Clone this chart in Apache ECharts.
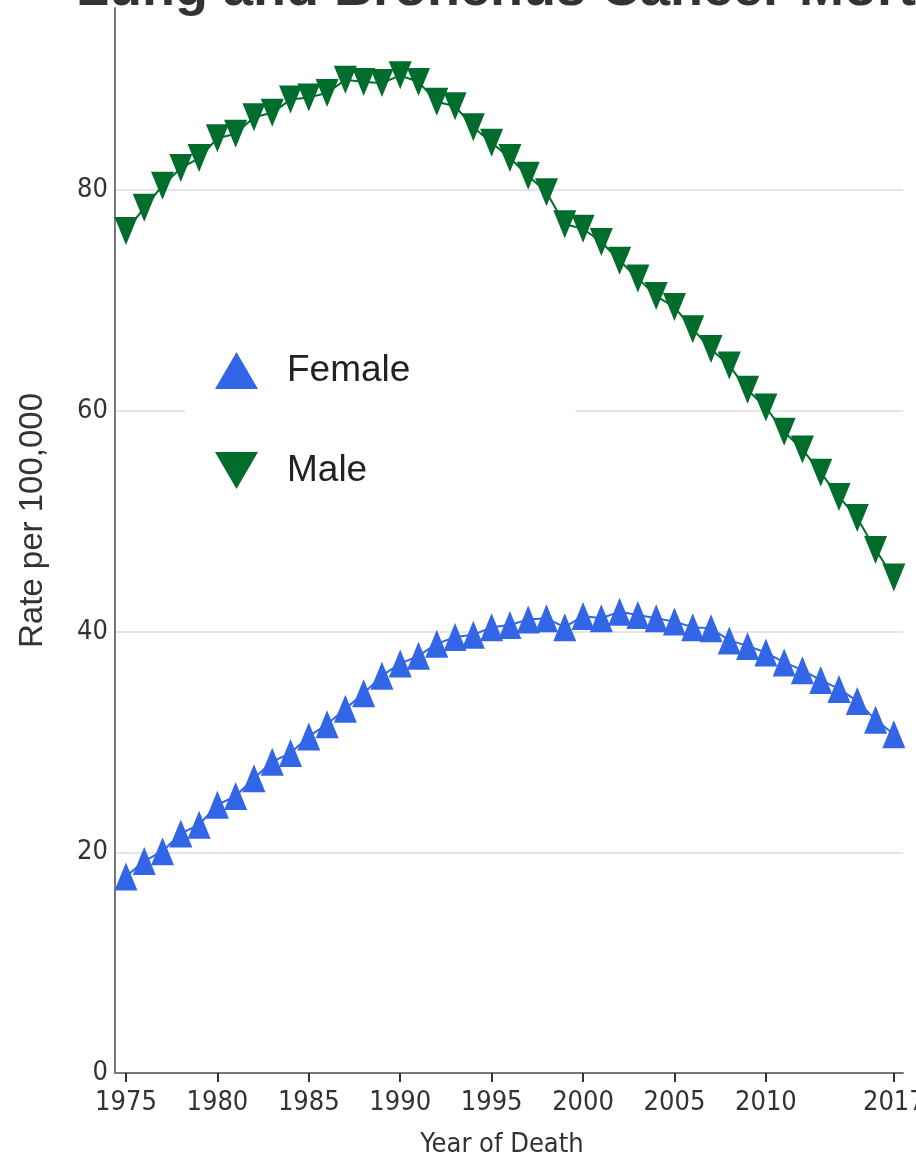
<!DOCTYPE html>
<html>
<head>
<meta charset="utf-8">
<script src="https://cdn.jsdelivr.net/npm/echarts@6/dist/echarts.min.js"></script>
<style>
html,body{margin:0;padding:0;background:#fff;}
#chart{width:916px;height:1159px;}
</style>
</head>
<body>
<div id="chart"></div>
<script>
// ---- data ----
const years = [1975,1976,1977,1978,1979,1980,1981,1982,1983,1984,1985,1986,1987,1988,1989,1990,1991,1992,1993,1994,1995,1996,1997,1998,1999,2000,2001,2002,2003,2004,2005,2006,2007,2008,2009,2010,2011,2012,2013,2014,2015,2016,2017];
const female = [17.8,19.2,20.1,21.7,22.5,24.3,25.1,26.7,28.2,29.0,30.5,31.6,33.0,34.4,36.0,37.1,37.8,38.9,39.5,39.7,40.4,40.6,41.1,41.2,40.4,41.4,41.2,41.8,41.5,41.2,40.9,40.4,40.3,39.2,38.7,38.1,37.2,36.5,35.6,34.8,33.7,32.0,30.7];
const male = [76.3,78.4,80.4,82.0,82.9,84.7,85.1,86.6,87.0,88.2,88.4,88.8,90.0,89.8,89.7,90.4,89.8,88.0,87.6,85.7,84.3,82.9,81.3,79.8,76.9,76.5,75.3,73.6,72.0,70.4,69.4,67.4,65.6,64.1,61.9,60.3,58.1,56.5,54.4,52.2,50.3,47.4,44.9];
const xTickYears = [1975,1980,1985,1990,1995,2000,2005,2010,2017];
const seriesNames = ['Female','Male'];
const titleText = 'Lung and Bronchus Cancer Mortality Rates, 1975-2017';
const xAxisTitle = 'Year of Death';
const yAxisTitle = 'Rate per 100,000';

const narrow = "'Liberation Sans Narrow','Arial Narrow','DejaVu Sans Condensed',sans-serif";
const sans = "'Liberation Sans',Arial,sans-serif";

const chart = echarts.init(document.getElementById('chart'), null, {renderer:'canvas'});
chart.setOption({
  animation:false,
  backgroundColor:'#fff',
  title:{
    text:titleText,
    left:71, top:-42,
    textStyle:{fontFamily:sans, fontSize:54, fontWeight:'bold', color:'#333'}
  },
  legend:{
    orient:'vertical',
    left:185, top:340,
    padding:[12,165,12,30],
    backgroundColor:'#fff',
    itemWidth:43, itemHeight:37, itemGap:63,
    textStyle:{fontFamily:sans, fontSize:37, color:'#222', padding:[0,0,0,24]},
    data:[
      {name:seriesNames[0], icon:'triangle'},
      {name:seriesNames[1], icon:'path://M0,0L43,0L21.5,37Z'}
    ]
  },
  grid:{left:115, right:13, top:8, bottom:86, containLabel:false, outerBoundsMode:'none'},
  xAxis:{
    type:'value',
    min:1974.4, max:2017.5,
    name:xAxisTitle, nameLocation:'middle', nameGap:58,
    nameTextStyle:{fontFamily:narrow, fontSize:27, color:'#333', padding:[0,14,0,0]},
    axisLine:{show:true, lineStyle:{color:'#777', width:2}},
    axisTick:{show:true, customValues:xTickYears, length:9, lineStyle:{color:'#333', width:2}},
    axisLabel:{customValues:xTickYears, fontFamily:narrow, fontSize:27, color:'#333', margin:16,
      formatter:function(v){return String(v);}},
    splitLine:{show:false}
  },
  yAxis:{
    type:'value',
    min:0, max:96.5, interval:20,
    name:yAxisTitle, nameLocation:'middle', nameGap:66, nameRotate:90,
    nameTextStyle:{fontFamily:sans, fontSize:33, color:'#333', padding:[0,0,0,40]},
    axisLine:{show:true, lineStyle:{color:'#777', width:2}},
    axisTick:{show:false},
    axisLabel:{fontFamily:narrow, fontSize:27, color:'#333', margin:7, showMaxLabel:false,
      formatter:function(v){return (v%20===0)?String(v):'';}},
    splitLine:{show:true, showMaxLine:false, lineStyle:{color:'#e6e6e6', width:2}}
  },
  series:[
    {
      name:seriesNames[0], type:'line',
      data:years.map((y,i)=>[y,female[i]]),
      symbol:'triangle', symbolSize:[23,28],
      itemStyle:{color:'#3366E6'},
      lineStyle:{color:'#3366E6', width:2},
      z:3
    },
    {
      name:seriesNames[1], type:'line',
      data:years.map((y,i)=>[y,male[i]]),
      symbol:'triangle', symbolRotate:180, symbolSize:[23,28],
      itemStyle:{color:'#006D2C'},
      lineStyle:{color:'#006D2C', width:2},
      z:3
    }
  ]
});
</script>
</body>
</html>
